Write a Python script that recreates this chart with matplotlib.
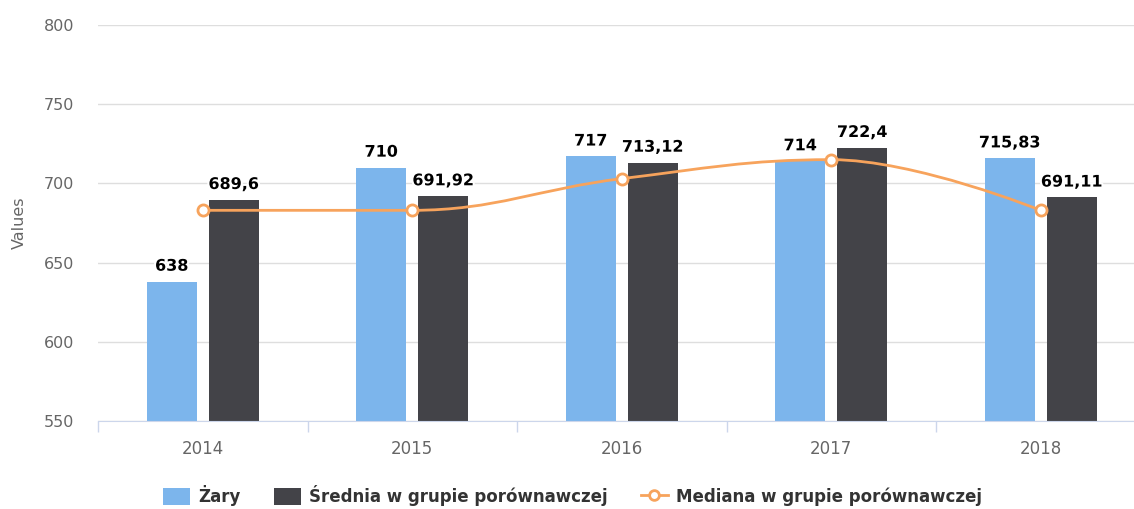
import numpy as np
import matplotlib.pyplot as plt
import matplotlib.patheffects as pe
from matplotlib.path import Path
from matplotlib.patches import PathPatch
from matplotlib.lines import Line2D
from matplotlib.patches import Patch

# dane
lata = ['2014', '2015', '2016', '2017', '2018']
zary = [638, 710, 717, 714, 715.83]
srednia = [689.6, 691.92, 713.12, 722.4, 691.11]
mediana = [683, 683, 703, 715, 683]

etykiety_zary = ['638', '710', '717', '714', '715,83']
etykiety_srednia = ['689,6', '691,92', '713,12', '722,4', '691,11']

niebieski = '#7cb5ec'
ciemny = '#434348'
pomaranczowy = '#f7a35c'

plt.rcParams['font.family'] = 'DejaVu Sans'

fig = plt.figure(figsize=(11.34, 5.09), dpi=100)
ax = fig.add_axes([98 / 1134, 88 / 509, 1047.5 / 1134, 396 / 509])

x = np.arange(len(lata))
szer = 0.239
przes = 0.148

ax.bar(x - przes, zary, szer, color=niebieski, zorder=2)
ax.bar(x + przes, srednia, szer, color=ciemny, zorder=2)

obrys = [pe.withStroke(linewidth=3, foreground='white')]
for i in range(len(lata)):
    ax.text(x[i] - przes, zary[i] + 5, etykiety_zary[i], ha='center', va='bottom',
            fontsize=11.5, fontweight='bold', color='black', path_effects=obrys, zorder=5)
    ax.text(x[i] + przes, srednia[i] + 5, etykiety_srednia[i], ha='center', va='bottom',
            fontsize=11.5, fontweight='bold', color='black', path_effects=obrys, zorder=5)

# krzywa typu spline (jak w Highcharts)
def spline_path(xs, ys, smooth=1.5):
    n = len(xs)
    lewe = [None] * n
    prawe = [None] * n
    for i in range(1, n - 1):
        lx = (smooth * xs[i] + xs[i - 1]) / (smooth + 1)
        ly = (smooth * ys[i] + ys[i - 1]) / (smooth + 1)
        rx = (smooth * xs[i] + xs[i + 1]) / (smooth + 1)
        ry = (smooth * ys[i] + ys[i + 1]) / (smooth + 1)
        if rx != lx:
            korekta = ((ry - ly) * (rx - xs[i])) / (rx - lx) + ys[i] - ry
            ly += korekta
            ry += korekta
        if ly > max(ys[i - 1], ys[i]):
            ly = max(ys[i - 1], ys[i])
            ry = 2 * ys[i] - ly
        elif ly < min(ys[i - 1], ys[i]):
            ly = min(ys[i - 1], ys[i])
            ry = 2 * ys[i] - ly
        if ry > max(ys[i + 1], ys[i]):
            ry = max(ys[i + 1], ys[i])
            ly = 2 * ys[i] - ry
        elif ry < min(ys[i + 1], ys[i]):
            ry = min(ys[i + 1], ys[i])
            ly = 2 * ys[i] - ry
        lewe[i] = (lx, ly)
        prawe[i] = (rx, ry)
    verts = [(xs[0], ys[0])]
    codes = [Path.MOVETO]
    for i in range(1, n):
        c1 = prawe[i - 1] if prawe[i - 1] else (xs[i - 1], ys[i - 1])
        c2 = lewe[i] if lewe[i] else (xs[i], ys[i])
        verts += [c1, c2, (xs[i], ys[i])]
        codes += [Path.CURVE4] * 3
    return Path(verts, codes)

ax.add_patch(PathPatch(spline_path(list(x), mediana), fill=False, edgecolor=pomaranczowy,
                       lw=2, zorder=3))
ax.plot(x, mediana, 'o', color=pomaranczowy, mfc='white', mew=2, ms=8, zorder=4)

ax.set_xlim(-0.5, 4.5)
ax.set_ylim(550, 800)
ax.set_yticks([550, 600, 650, 700, 750, 800])
ax.grid(axis='y', color='#dedede', lw=1, zorder=0)
ax.set_axisbelow(True)
for s in ['top', 'right', 'left']:
    ax.spines[s].set_visible(False)
ax.spines['bottom'].set_color('#ccd6eb')

ax.set_xticks(x)
ax.set_xticklabels(lata)
ax.set_xticks(np.arange(-0.5, 5, 1), minor=True)
ax.tick_params(axis='x', which='major', length=0, pad=14, labelsize=12, labelcolor='#666666')
ax.tick_params(axis='x', which='minor', length=8, color='#ccd6eb', width=1)
ax.tick_params(axis='y', length=0, pad=17, labelsize=11.5, labelcolor='#666666')
ax.set_ylabel('Values', fontsize=11.5, color='#666666', labelpad=12)

uchwyty = [
    Patch(facecolor=niebieski, label='Żary'),
    Patch(facecolor=ciemny, label='Średnia w grupie porównawczej'),
    Line2D([0], [0], color=pomaranczowy, lw=2, marker='o', mfc='white', mew=2, ms=7,
           label='Mediana w grupie porównawczej'),
]
fig.legend(handles=uchwyty, loc='center', bbox_to_anchor=(0.505, 0.026), ncol=3,
           frameon=False, prop={'weight': 'bold', 'size': 12}, labelcolor='#333333',
           handlelength=1.6, handleheight=1.2, columnspacing=2.0, handletextpad=0.5,
           borderpad=0.1)

fig.savefig('out.png', dpi=100)
